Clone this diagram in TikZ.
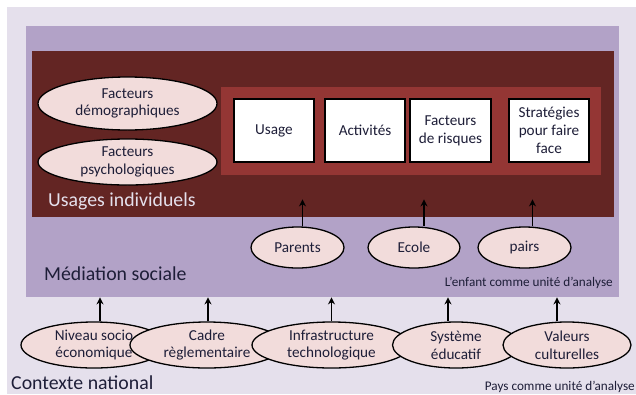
\documentclass[tikz,border=0pt]{standalone}
\usepackage{fontspec}
\setmainfont{Carlito}
\usetikzlibrary{shapes.geometric,arrows.meta}
\definecolor{fondpays}{HTML}{E5E0EC}
\definecolor{fondmediation}{HTML}{B2A2C7}
\definecolor{fondusages}{HTML}{632523}
\definecolor{fondusage}{HTML}{943634}
\definecolor{rose}{HTML}{F2DCDB}
\definecolor{encre}{HTML}{1E1E38}
\begin{document}
\begin{tikzpicture}[x=1pt, y=-1pt,
    zone/.style={anchor=north west, inner sep=0pt},
    bulle/.style={ellipse, draw=black, line width=1.3pt, fill=rose, inner sep=0pt, align=center, text=encre, font=\fontsize{15.2}{17.8}\selectfont},
    boite/.style={draw=black, line width=1.6pt, fill=white, minimum width=80pt, minimum height=63pt, inner sep=0pt, align=center, text=encre, font=\fontsize{15.2}{17.8}\selectfont},
    titre/.style={anchor=west, inner sep=0pt, font=\fontsize{19.8}{23}\selectfont},
    note/.style={inner sep=0pt, text=encre, font=\fontsize{13.2}{15}\selectfont},
    fleche/.style={-{Stealth[length=7pt,width=7pt]}, line width=1.8pt}]
    \useasboundingbox (0,0) rectangle (636,394);

    % Cadres emboites
    \node[zone, fill=fondpays, minimum width=640pt, minimum height=387pt] (pays) at (7,7) {};
    \node[zone, fill=fondmediation, minimum width=593pt, minimum height=271pt] (mediation) at (26,26) {};
    \node[zone, fill=fondusages, minimum width=582pt, minimum height=166pt] (usages) at (32,51) {};
    \node[zone, fill=fondusage, minimum width=380pt, minimum height=88pt] (usage) at (221,87) {};

    % Usages individuels
    \node[bulle, minimum width=179pt, minimum height=53pt] (demo) at (127.5,103.5) {Facteurs\\démographiques};
    \node[bulle, minimum width=179pt, minimum height=46pt] (psycho) at (127.5,162) {Facteurs\\psychologiques};
    \node[boite] (usg) at (274,130.5) {Usage};
    \node[boite] (activites) at (365,130.5) {Activités};
    \node[boite, minimum width=81pt] (risques) at (450.5,130.5) {Facteurs\\de risques};
    \node[boite] (strategies) at (549,130.5) {Stratégies\\pour faire\\face};
    \node[titre, text=fondpays] (titreusages) at (48,201) {Usages individuels};

    % Médiation sociale
    \node[bulle, minimum width=93pt, minimum height=41pt] (parents) at (297.5,247.5) {Parents};
    \node[bulle, minimum width=92pt, minimum height=41pt] (ecole) at (414,247.5) {Ecole};
    \node[bulle, minimum width=93pt, minimum height=41pt] (pairs) at (524.5,247.5) {pairs};
    \draw[fleche] ([xshift=5pt]parents.north) -- ([xshift=5pt,yshift=18pt]parents.north |- usages.south);
    \draw[fleche] ([xshift=10pt]ecole.north) -- ([xshift=10pt,yshift=18pt]ecole.north |- usages.south);
    \draw[fleche] ([xshift=8pt]pairs.north) -- ([xshift=8pt,yshift=18pt]pairs.north |- usages.south);
    \node[titre, text=encre] (titremediation) at (44,274) {Médiation sociale};
    \node[note, anchor=east] (enfant) at (613,283) {L’enfant comme unité d’analyse};

    % Contexte national
    \node[bulle, minimum width=146pt, minimum height=46pt] (niveau) at (94,345) {Niveau socio\\économique};
    \node[bulle, minimum width=154pt, minimum height=46pt] (cadre) at (207,345) {Cadre\\règlementaire};
    \node[bulle, minimum width=159pt, minimum height=46pt] (infra) at (331.5,345) {Infrastructure\\technologique};
    \node[bulle, minimum width=127pt, minimum height=46pt] (systeme) at (456,345) {Système\\éducatif};
    \node[bulle, minimum width=128pt, minimum height=46pt] (valeurs) at (567,345) {Valeurs\\culturelles};
    \draw[fleche] ([xshift=6pt]niveau.north) -- ([xshift=6pt]niveau.north |- mediation.south);
    \draw[fleche] ([xshift=1pt]cadre.north) -- ([xshift=1pt]cadre.north |- mediation.south);
    \draw[fleche] (infra.north) -- (infra.north |- mediation.south);
    \draw[fleche] ([xshift=-8pt]systeme.north) -- ([xshift=-8pt]systeme.north |- mediation.south);
    \draw[fleche] ([xshift=-10pt]valeurs.north) -- ([xshift=-10pt]valeurs.north |- mediation.south);
    \node[titre, text=encre] (titrecontexte) at (11,383) {Contexte national};
    \node[note, anchor=east] (unitepays) at (635,387) {Pays comme unité d’analyse};
\end{tikzpicture}
\end{document}
